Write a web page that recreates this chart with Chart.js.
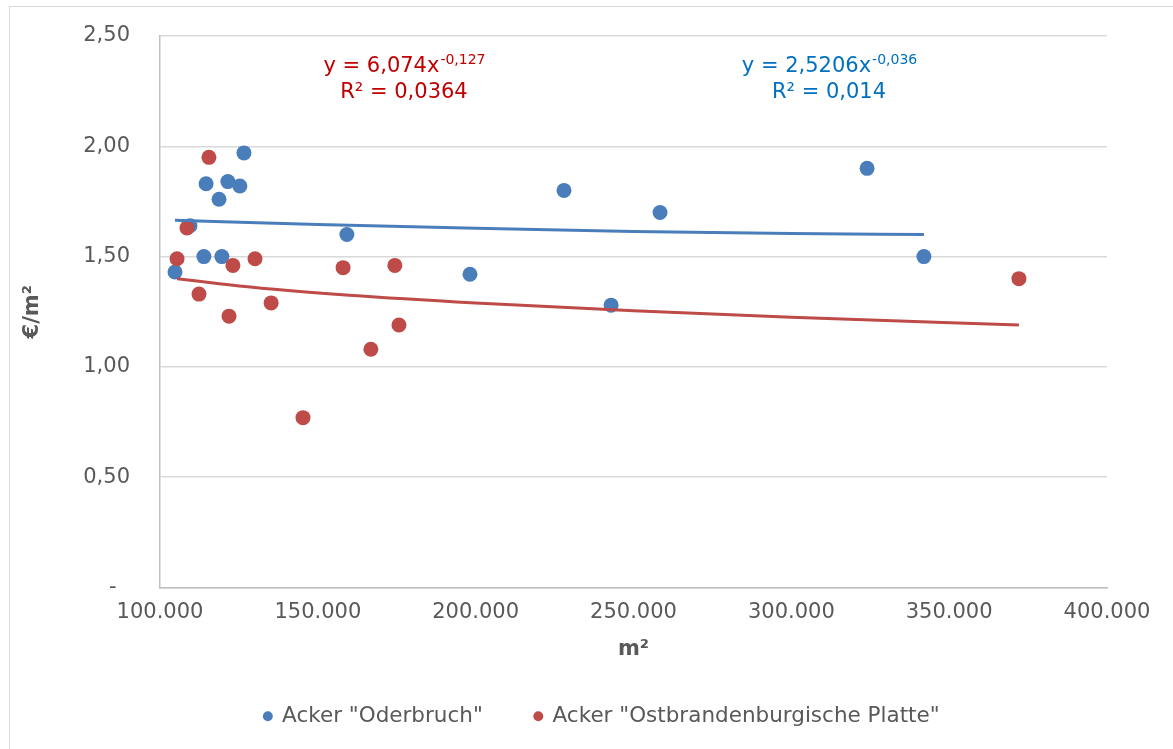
<!DOCTYPE html>
<html>
<head>
<meta charset="utf-8">
<script src="https://cdn.jsdelivr.net/npm/chart.js@4/dist/chart.umd.min.js"></script>
<style>
  html, body { margin: 0; padding: 0; background: #ffffff; overflow: hidden; }
  body { width: 1173px; height: 749px; position: relative; }
  #frame { position: absolute; left: 9px; top: 6px; width: 1164px; height: 743px; border-left: 1px solid #d9d9d9; border-top: 1px solid #d9d9d9; box-sizing: border-box; }
  #c { position: absolute; left: 0; top: 0; }
</style>
</head>
<body>
<div id="frame"></div>
<canvas id="c" width="1173" height="749"></canvas>
<script>
// ---- data ----
const xTickLabels = ['100.000', '150.000', '200.000', '250.000', '300.000', '350.000', '400.000'];
const yTickLabels = ['-', '0,50', '1,00', '1,50', '2,00', '2,50'];

const seriesNames = ['Acker "Oderbruch"', 'Acker "Ostbrandenburgische Platte"'];

const oderbruchArea  = [104750, 109500, 113900, 114600, 118700, 119600, 121500, 125300, 126600, 159200, 198200, 227980, 242900, 258400, 324000, 342000];
const oderbruchPrice = [1.43, 1.64, 1.50, 1.83, 1.76, 1.50, 1.84, 1.82, 1.97, 1.60, 1.42, 1.80, 1.28, 1.70, 1.90, 1.50];

const ostArea  = [105400, 108550, 112350, 115500, 121860, 123100, 130100, 135200, 145300, 158000, 166800, 174400, 175700, 372100];
const ostPrice = [1.49, 1.63, 1.33, 1.95, 1.23, 1.46, 1.49, 1.29, 0.77, 1.45, 1.08, 1.46, 1.19, 1.40];

// trend lines
const oderbruchTrendArea  = [104750, 150000, 200000, 250000, 300000, 342000];
const oderbruchTrendPrice = [1.665, 1.645, 1.628, 1.614, 1.605, 1.60];
const ostTrendArea  = [105400, 130000, 160000, 200000, 250000, 300000, 372100];
const ostTrendPrice = [1.40, 1.36, 1.325, 1.29, 1.255, 1.225, 1.19];

const trendLabels = [
  { main: 'y = 6,074x', sup: '-0,127', r2: 'R² = 0,0364', color: '#c00000', cx: 404 },
  { main: 'y = 2,5206x', sup: '-0,036', r2: 'R² = 0,014', color: '#0070c0', cx: 829 }
];

// ---- helpers ----
const pts = (xs, ys) => xs.map((x, i) => ({ x: x, y: ys[i] }));

const BLUE = '#4a7ebb';
const RED = '#be4b48';
const TXT = '#595959';
const FONT = "'DejaVu Sans', Verdana, sans-serif";

const PLOT_TOP = 36, PLOT_LEFT = 160, PAD_BOTTOM = 12, X_HEIGHT = 66;

const annotationPlugin = {
  id: 'trendText',
  afterDraw(chart) {
    const ctx = chart.ctx;
    ctx.save();
    trendLabels.forEach(t => {
      ctx.fillStyle = t.color;
      ctx.textBaseline = 'middle';
      ctx.textAlign = 'left';
      ctx.font = '21px ' + FONT;
      const w1 = ctx.measureText(t.main).width;
      ctx.font = '14px ' + FONT;
      const w2 = ctx.measureText(t.sup).width;
      const x0 = t.cx - (w1 + w2) / 2;
      ctx.font = '21px ' + FONT;
      ctx.fillText(t.main, x0, 67);
      ctx.font = '14px ' + FONT;
      ctx.fillText(t.sup, x0 + w1 + 1, 60);
      ctx.font = '21px ' + FONT;
      ctx.textAlign = 'center';
      ctx.fillText(t.r2, t.cx, 93);
    });
    ctx.restore();
  }
};

const legendShift = {
  id: 'legendShift',
  afterLayout(chart) {
    if (chart.legend) {
      chart.legend.left = 31;
      chart.legend.right = 1173;
    }
  }
};

new Chart(document.getElementById('c'), {
  type: 'scatter',
  data: {
    datasets: [
      {
        label: seriesNames[0],
        data: pts(oderbruchArea, oderbruchPrice),
        backgroundColor: BLUE, borderColor: BLUE,
        pointRadius: 7.5, pointBorderWidth: 0, pointHoverRadius: 7.5,
        order: 3
      },
      {
        label: seriesNames[1],
        data: pts(ostArea, ostPrice),
        backgroundColor: RED, borderColor: RED,
        pointRadius: 7.5, pointBorderWidth: 0, pointHoverRadius: 7.5,
        order: 2
      },
      {
        label: 'trend1',
        data: pts(oderbruchTrendArea, oderbruchTrendPrice),
        showLine: true, borderColor: BLUE, backgroundColor: BLUE,
        borderWidth: 3, pointRadius: 0, cubicInterpolationMode: 'monotone',
        order: 1
      },
      {
        label: 'trend2',
        data: pts(ostTrendArea, ostTrendPrice),
        showLine: true, borderColor: RED, backgroundColor: RED,
        borderWidth: 3, pointRadius: 0, cubicInterpolationMode: 'monotone',
        order: 0
      }
    ]
  },
  options: {
    responsive: false,
    animation: false,
    events: [],
    layout: { padding: { left: 0, top: PLOT_TOP, right: 66, bottom: PAD_BOTTOM } },
    plugins: {
      tooltip: { enabled: false },
      legend: {
        position: 'bottom',
        labels: {
          usePointStyle: true, pointStyle: 'circle',
          boxWidth: 7, boxHeight: 7,
          padding: 52,
          color: TXT,
          font: { family: FONT, size: 21.5 },
          filter: (item) => item.datasetIndex < 2,
          sort: (a, b) => a.datasetIndex - b.datasetIndex
        }
      }
    },
    scales: {
      x: {
        type: 'linear',
        min: 100000, max: 400000,
        afterFit(s) { s.height = X_HEIGHT; },
        afterBuildTicks(s) {
          s.ticks = xTickLabels.map((_, i) => ({ value: 100000 + i * 50000 }));
        },
        ticks: {
          callback: (v, i) => xTickLabels[i],
          color: TXT, font: { family: FONT, size: 21 },
          padding: 12, maxRotation: 0, autoSkip: false
        },
        grid: { display: false, drawTicks: false },
        border: { display: true, color: '#bfbfbf', width: 1.5 },
        title: {
          display: true, text: 'm²', color: TXT,
          font: { family: FONT, size: 21, weight: 'bold', lineHeight: 0.4 },
          padding: { top: 0, bottom: 0 }
        }
      },
      y: {
        type: 'linear',
        min: 0, max: 2.5,
        afterFit(s) { s.width = PLOT_LEFT; },
        afterBuildTicks(s) {
          s.ticks = yTickLabels.map((_, i) => ({ value: i * 0.5 }));
        },
        ticks: {
          callback: (v, i) => (yTickLabels[i] === '-' ? '-  ' : yTickLabels[i]),
          color: TXT, font: { family: FONT, size: 21 },
          padding: 20
        },
        grid: { color: '#d9d9d9', lineWidth: 1.5, drawTicks: true, tickLength: 10, tickColor: 'rgba(0,0,0,0)' },
        border: { display: true, color: '#bfbfbf', width: 1.5 },
        title: {
          display: true, text: '€/m²', color: TXT,
          font: { family: FONT, size: 21, weight: 'bold' },
          padding: { top: 20, bottom: 0 }
        }
      }
    }
  },
  plugins: [legendShift, annotationPlugin]
});
</script>
</body>
</html>
